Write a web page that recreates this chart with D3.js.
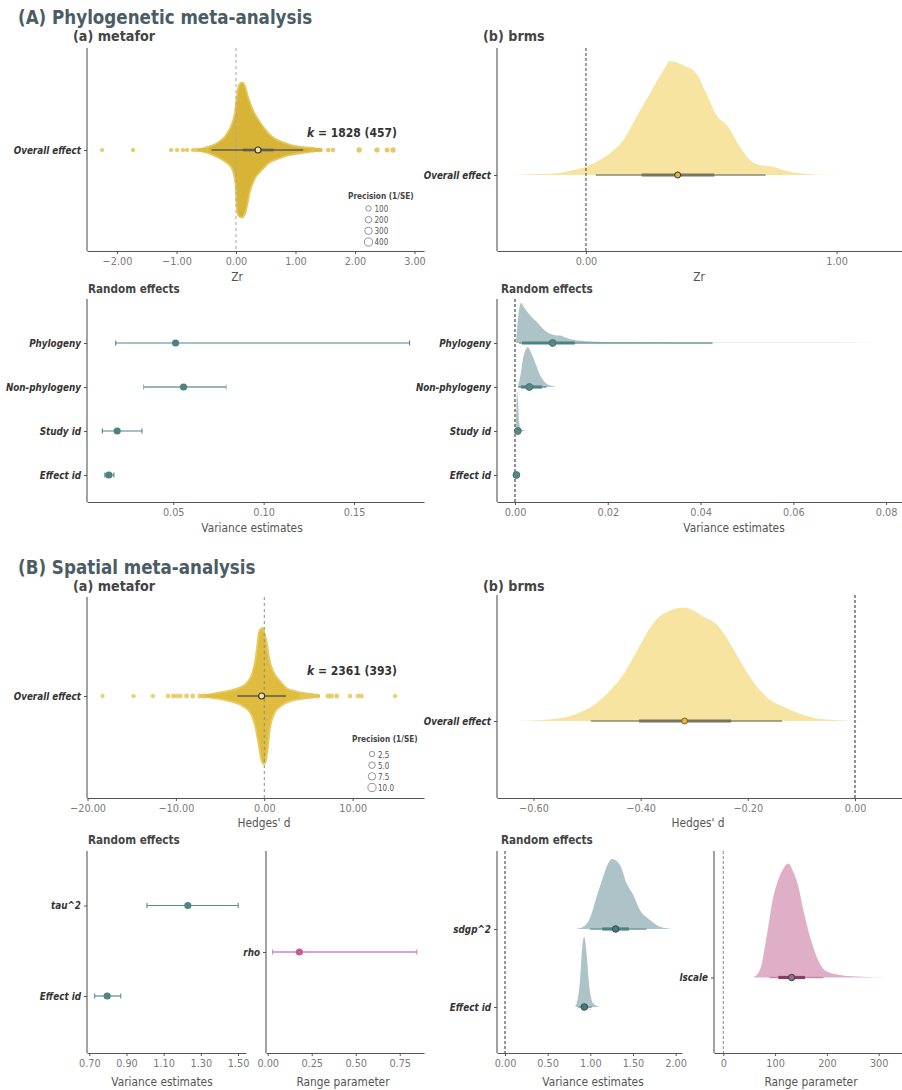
<!DOCTYPE html>
<html><head><meta charset="utf-8">
<script src="https://cdn.jsdelivr.net/npm/d3@7"></script>
<style>
body{margin:0;background:#fff}
svg{display:block}
text{font-family:"DejaVu Sans Condensed","DejaVu Sans",sans-serif}
</style>
</head><body>
<svg id="c" width="902" height="1090"></svg>
<script>
// ======================= DATA =======================
// ---- (A) Phylogenetic meta-analysis ----
const phyloOverallLabel = ["Overall effect"];
const phyloMetaforEstimate = 0.37;
const phyloMetaforCI = [0.12, 0.63];
const phyloMetaforPI = [-0.41, 1.13];
const phyloK = "1828 (457)";
// beeswarm envelope: [Zr, relative stack height]
const phyloSwarmUpper = [[-0.64,0],[-0.55,0.025],[-0.47,0.045],[-0.30,0.11],[-0.185,0.20],[-0.10,0.32],[-0.045,0.45],[-0.015,0.57],[0.01,0.76],[0.05,0.96],[0.10,1.0],[0.14,0.97],[0.207,0.77],[0.29,0.58],[0.375,0.45],[0.487,0.31],[0.6,0.20],[0.77,0.12],[0.94,0.07],[1.10,0.045],[1.27,0.03],[1.45,0]];
const phyloSwarmLower = [[-0.64,0],[-0.55,0.025],[-0.47,0.045],[-0.30,0.11],[-0.185,0.17],[-0.07,0.27],[-0.006,0.51],[0.01,0.81],[0.039,0.97],[0.10,1.0],[0.155,0.94],[0.18,0.85],[0.235,0.61],[0.32,0.42],[0.43,0.30],[0.54,0.20],[0.71,0.13],[0.88,0.08],[1.10,0.045],[1.30,0.02],[1.42,0]];
const phyloOutlierZr = [-2.25,-1.73,-1.09,-0.99,-0.89,-0.82,-0.72,-0.66,-0.57,-0.49,1.29,1.41,1.55,1.63,2.07,2.37,2.54,2.64];
const phyloOutlierPrecision = [8,10,12,14,15,12,15,18,20,25,30,25,20,25,60,55,40,60];
const phyloPrecisionBreaks = [100,200,300,400];
// brms posterior of overall Zr: [Zr, relative density]
const phyloBrmsDensity = [[-0.283,0],[-0.21,0.006],[-0.117,0.015],[-0.064,0.038],[0,0.073],[0.043,0.117],[0.096,0.19],[0.149,0.306],[0.202,0.51],[0.255,0.714],[0.309,0.918],[0.335,1.0],[0.388,0.962],[0.441,0.889],[0.48,0.714],[0.521,0.525],[0.561,0.44],[0.614,0.248],[0.654,0.131],[0.694,0.087],[0.747,0.073],[0.787,0.044],[0.854,0.015],[0.92,0.003],[1.2,0]];
const phyloBrmsPoint = 0.366;
const phyloBrmsInner = [0.222, 0.512];
const phyloBrmsOuter = [0.039, 0.717];
// random effects
const phyloRandomLabels = ["Phylogeny","Non-phylogeny","Study id","Effect id"];
const phyloMetaforVar = [0.0513, 0.0557, 0.0190, 0.0144];
const phyloMetaforVarLow = [0.0182, 0.0336, 0.0108, 0.0122];
const phyloMetaforVarHigh = [0.1807, 0.0793, 0.0327, 0.0172];
const phyloBrmsVarDensity = [
  [[0.0002,0],[0.0006,0.55],[0.0010,0.92],[0.0013,1.0],[0.0020,0.88],[0.0032,0.70],[0.0050,0.49],[0.0068,0.28],[0.0080,0.21],[0.0090,0.19],[0.0097,0.19],[0.0110,0.13],[0.0126,0.08],[0.0162,0.04],[0.022,0.025],[0.029,0.015],[0.043,0.008],[0.060,0.004],[0.079,0]],
  [[0.0006,0],[0.0012,0.3],[0.0018,0.75],[0.0025,0.97],[0.0028,1.0],[0.0033,0.9],[0.0040,0.72],[0.0047,0.5],[0.0054,0.3],[0.0060,0.18],[0.0068,0.08],[0.0078,0.03],[0.0090,0]],
  [[0.0001,0],[0.0003,0.6],[0.0005,1.0],[0.0007,0.6],[0.0009,0.2],[0.0012,0.06],[0.0020,0.01],[0.0030,0]],
  []
];
const phyloBrmsVarPoint = [0.0081, 0.0031, 0.0006, 0.0003];
const phyloBrmsVarInner = [[0.0015,0.0129],[0.0013,0.0058],[0.0003,0.0009],[0.0002,0.0004]];
const phyloBrmsVarOuter = [[0.0009,0.0426],[0.0007,0.0068],[0.0001,0.0014],[0.0001,0.0005]];

// ---- (B) Spatial meta-analysis ----
const spatialOverallLabel = ["Overall effect"];
const spatialMetaforEstimate = -0.30;
const spatialMetaforCI = [-0.55, -0.08];
const spatialMetaforPI = [-3.05, 2.45];
const spatialK = "2361 (393)";
const spatialSwarmUpper = [[-7.2,0],[-5.58,0.04],[-4.07,0.075],[-2.94,0.115],[-2.0,0.19],[-1.43,0.31],[-1.05,0.50],[-0.79,0.75],[-0.6,0.94],[-0.37,0.99],[-0.15,1.0],[0,0.94],[0.27,0.79],[0.57,0.54],[1.02,0.36],[1.78,0.22],[2.53,0.115],[3.67,0.065],[5.36,0.025],[6.3,0]];
const spatialSwarmLower = [[-7.2,0],[-5.5,0.035],[-4.07,0.07],[-2.56,0.14],[-1.62,0.24],[-1.05,0.43],[-0.68,0.68],[-0.37,0.92],[-0.11,1.0],[0.15,0.97],[0.38,0.78],[0.64,0.48],[1.2,0.24],[1.96,0.14],[3.1,0.07],[4.6,0.035],[5.8,0]];
const spatialOutlierD = [-18.3,-14.8,-12.6,-10.9,-10.3,-9.9,-9.5,-8.8,-8.1,-7.3,-6.8,4.2,4.6,5.0,5.4,5.9,7.2,7.6,8.2,9.7,10.6,11.0,14.8];
const spatialOutlierPrecision = [0.3,0.4,0.4,0.6,0.8,0.7,0.8,0.9,1.0,1.0,1.2,2.2,2.0,2.0,1.8,1.2,1.2,1.0,1.2,0.6,0.8,0.8,0.4];
const spatialPrecisionBreaks = [2.5,5.0,7.5,10.0];
const spatialBrmsDensity = [[-0.633,0],[-0.567,0.015],[-0.518,0.067],[-0.487,0.141],[-0.456,0.273],[-0.431,0.419],[-0.406,0.625],[-0.381,0.830],[-0.357,0.947],[-0.319,1.0],[-0.282,0.918],[-0.257,0.845],[-0.233,0.683],[-0.208,0.478],[-0.183,0.302],[-0.158,0.185],[-0.133,0.126],[-0.096,0.053],[-0.059,0.015],[-0.009,0.003],[0.047,0]];
const spatialBrmsPoint = -0.318;
const spatialBrmsInner = [-0.403, -0.231];
const spatialBrmsOuter = [-0.493, -0.136];
// random effects (metafor)
const spatialVarLabels = ["tau^2","Effect id"];
const spatialMetaforVar = [1.230, 0.796];
const spatialMetaforVarLow = [1.010, 0.729];
const spatialMetaforVarHigh = [1.501, 0.869];
const spatialRangeLabels = ["rho"];
const spatialMetaforRho = [0.180];
const spatialMetaforRhoLow = [0.028];
const spatialMetaforRhoHigh = [0.847];
// random effects (brms)
const spatialBrmsVarLabels = ["sdgp^2","Effect id"];
const spatialBrmsVarDensity = [
  [[0.82,0],[0.918,0.033],[0.996,0.152],[1.074,0.46],[1.152,0.75],[1.21,0.94],[1.258,1.0],[1.348,0.914],[1.426,0.65],[1.504,0.486],[1.582,0.27],[1.70,0.129],[1.816,0.033],[1.97,0]],
  [[0.82,0],[0.84,0.05],[0.879,0.38],[0.906,0.86],[0.93,1.0],[0.957,0.76],[0.988,0.29],[1.035,0.05],[1.113,0]]
];
const spatialBrmsVarPoint = [1.297, 0.930];
const spatialBrmsVarInner = [[1.14,1.453],[0.895,0.965]];
const spatialBrmsVarOuter = [[0.996,1.66],[0.86,1.016]];
const spatialBrmsRangeLabels = ["lscale"];
const spatialBrmsRangeDensity = [[58,0],[70.8,0.067],[83.7,0.36],[96.6,0.71],[106,0.855],[116,0.956],[125.6,1.0],[135,0.927],[145,0.796],[154.5,0.592],[167.4,0.359],[180,0.184],[199.6,0.052],[225,0.023],[257.6,0.009],[322,0]];
const spatialBrmsRangePoint = 132;
const spatialBrmsRangeInner = [106.2, 157.8];
const spatialBrmsRangeOuter = [88.8, 193.2];

// ======================= DRAWING =======================
const svg = d3.select("#c");
svg.append("rect").attr("width",902).attr("height",1090).attr("fill","#fff");
const FONT = '"DejaVu Sans Condensed","DejaVu Sans",sans-serif';
const AX = "#555";

function text(x, y, s, o = {}) {
  return svg.append("text").attr("x", x).attr("y", y).text(s)
    .attr("font-size", o.size || 11).attr("font-weight", o.weight || "normal")
    .attr("font-style", o.style || "normal").attr("fill", o.fill || "#444")
    .attr("text-anchor", o.anchor || "start");
}
function xAxis(scale, y, ticks, fmt) {
  const g = svg.append("g").attr("transform", `translate(0,${y})`)
    .call(d3.axisBottom(scale).tickValues(ticks).tickFormat(fmt).tickSize(3).tickSizeOuter(0).tickPadding(3));
  g.attr("font-family", FONT).attr("font-size", 10.8);
  g.select(".domain").attr("stroke", AX).attr("stroke-width", 1.1);
  g.selectAll(".tick line").attr("stroke", AX);
  g.selectAll(".tick text").attr("fill", "#7a7a7a");
}
function yAxis(scale, x, y0, y1) {
  svg.append("line").attr("x1", x).attr("x2", x).attr("y1", y0).attr("y2", y1)
    .attr("stroke", AX).attr("stroke-width", 1.1);
  const g = svg.append("g").attr("transform", `translate(${x},0)`)
    .call(d3.axisLeft(scale).tickSize(3).tickSizeOuter(0).tickPadding(3));
  g.select(".domain").remove();
  g.attr("font-family", FONT).attr("font-size", 9.8);
  g.selectAll(".tick line").attr("stroke", AX);
  g.selectAll(".tick text").attr("fill", "#333").attr("font-weight", "bold").attr("font-style", "italic");
}
function zeroLine(x, y0, y1, color, dash) {
  svg.append("line").attr("x1", x).attr("x2", x).attr("y1", y0).attr("y2", y1)
    .attr("stroke", color).attr("stroke-width", 1).attr("stroke-dasharray", dash);
}
function slab(data, xs, yBase, hScale, fill) {
  if (!data.length) return;
  svg.append("path").datum(data)
    .attr("d", d3.area().x(d => xs(d[0])).y0(yBase).y1(d => yBase - hScale(d[1])).curve(d3.curveMonotoneX))
    .attr("fill", fill);
}
function pointInterval(xs, y, pt, inner, outer, st) {
  svg.append("line").attr("x1", xs(outer[0])).attr("x2", xs(outer[1])).attr("y1", y).attr("y2", y)
    .attr("stroke", st.thin).attr("stroke-width", 1.6);
  svg.append("line").attr("x1", xs(inner[0])).attr("x2", xs(inner[1])).attr("y1", y).attr("y2", y)
    .attr("stroke", st.thick).attr("stroke-width", 3.2);
  svg.append("circle").attr("cx", xs(pt)).attr("cy", y).attr("r", st.r || 3)
    .attr("fill", st.pf).attr("stroke", st.ps).attr("stroke-width", 1);
}
function whisker(xs, y, pt, lo, hi, color, pcolor, w) {
  svg.append("line").attr("x1", xs(lo)).attr("x2", xs(hi)).attr("y1", y).attr("y2", y)
    .attr("stroke", color).attr("stroke-width", w);
  [lo, hi].forEach(v => svg.append("line").attr("x1", xs(v)).attr("x2", xs(v)).attr("y1", y - 2.5).attr("y2", y + 2.5)
    .attr("stroke", color).attr("stroke-width", 1.1));
  svg.append("circle").attr("cx", xs(pt)).attr("cy", y).attr("r", 3.6).attr("fill", pcolor);
}
function swarm(xs, cy, upper, lower, sw, fill, edge) {
  const gen = (sgn) => d3.area().x(d => xs(d[0])).y0(cy).y1(d => cy + sgn * sw(d[1])).curve(d3.curveMonotoneX);
  svg.append("path").datum(upper).attr("d", gen(-1)).attr("fill", fill).attr("stroke", edge).attr("stroke-width", 1.8);
  svg.append("path").datum(lower).attr("d", gen(1)).attr("fill", fill).attr("stroke", edge).attr("stroke-width", 1.8);
  svg.append("line").attr("x1", xs(upper[0][0])).attr("x2", xs(upper[upper.length-1][0])).attr("y1", cy).attr("y2", cy)
    .attr("stroke", fill).attr("stroke-width", 3);
}
const f2 = d3.format(".2f");

// ---------- Titles ----------
text(18, 23.5, "(A) Phylogenetic meta-analysis", {size: 18.6, weight: "bold", fill: "#4b5c64"});
text(73, 41, "(a) metafor", {size: 14.2, weight: "bold", fill: "#444"});
text(483, 41, "(b) brms", {size: 14.2, weight: "bold", fill: "#444"});
text(18, 573.5, "(B) Spatial meta-analysis", {size: 18.6, weight: "bold", fill: "#4b5c64"});
text(73, 591, "(a) metafor", {size: 14.2, weight: "bold", fill: "#444"});
text(483, 591, "(b) brms", {size: 14.2, weight: "bold", fill: "#444"});

// ========== A (a) metafor ==========
{
  const xs = d3.scaleLinear().domain([-2.504, 3.160]).range([87, 424]);
  const ys = d3.scalePoint().domain(phyloOverallLabel).range([150, 150]);
  const cy = ys("Overall effect");
  const sw = d3.scaleLinear().domain([0, 1]).range([0, 67.5]);
  const rs = d3.scaleSqrt().domain([0, 400]).range([1.3, 4.1]);
  swarm(xs, cy, phyloSwarmUpper, phyloSwarmLower, sw, "#d8b436", "#e4c75c");
  svg.append("g").selectAll("circle").data(phyloOutlierZr).join("circle")
    .attr("cx", d => xs(d)).attr("cy", cy).attr("r", (d, i) => rs(phyloOutlierPrecision[i]))
    .attr("fill", "#e1c24c").attr("stroke", "#dcb83e").attr("stroke-width", 0.6).attr("opacity", 0.85);
  zeroLine(xs(0), 48, 251, "#a6a6a6", "3,3");
  svg.append("line").attr("x1", xs(phyloMetaforPI[0])).attr("x2", xs(phyloMetaforPI[1])).attr("y1", cy).attr("y2", cy)
    .attr("stroke", "#5a5a5a").attr("stroke-width", 1.4);
  svg.append("line").attr("x1", xs(phyloMetaforCI[0])).attr("x2", xs(phyloMetaforCI[1])).attr("y1", cy).attr("y2", cy)
    .attr("stroke", "#5a5a5a").attr("stroke-width", 2.6);
  svg.append("circle").attr("cx", xs(phyloMetaforEstimate)).attr("cy", cy).attr("r", 3)
    .attr("fill", "#f4e39c").attr("stroke", "#333").attr("stroke-width", 1.1);
  const k = svg.append("text").attr("x", 307).attr("y", 137).attr("font-size", 12).attr("font-weight", "bold").attr("fill", "#333");
  k.append("tspan").attr("font-style", "italic").text("k");
  k.append("tspan").text(" = " + phyloK);
  // legend
  text(348, 199, "Precision (1/SE)", {size: 8.2, weight: "bold", fill: "#444"});
  const ly = d3.scalePoint().domain(phyloPrecisionBreaks).range([208.5, 242]);
  phyloPrecisionBreaks.forEach(p => {
    svg.append("circle").attr("cx", 368.5).attr("cy", ly(p)).attr("r", rs(p)).attr("fill", "#fff").attr("stroke", "#7a7a7a").attr("stroke-width", 0.8);
    text(374.5, ly(p) + 3, String(p), {size: 8, fill: "#555"});
  });
  xAxis(xs, 251, [-2, -1, 0, 1, 2, 3], f2);
  yAxis(ys, 87, 48, 251);
  text(237, 281, "Zr", {size: 11.8, fill: "#555", anchor: "middle"});
}

// ========== A (b) brms ==========
{
  const xs = d3.scaleLinear().domain([-0.355, 1.261]).range([497, 902]);
  const ys = d3.scalePoint().domain(phyloOverallLabel).range([175, 175]);
  const cy = ys("Overall effect");
  const hs = d3.scaleLinear().domain([0, 1]).range([0, 114]);
  slab(phyloBrmsDensity, xs, cy, hs, "#f7e4a1");
  zeroLine(xs(0), 48, 251, "#3c3a5e", "3,2");
  pointInterval(xs, cy, phyloBrmsPoint, phyloBrmsInner, phyloBrmsOuter,
    {thin: "#8b8873", thick: "#78745f", pf: "#e6b82c", ps: "#333", r: 3});
  xAxis(xs, 251, [0, 1], f2);
  yAxis(ys, 497, 48, 251);
  text(699, 281, "Zr", {size: 11.8, fill: "#555", anchor: "middle"});
}

// ========== A random effects metafor ==========
{
  text(88, 293, "Random effects", {size: 11.6, weight: "bold", fill: "#444"});
  const xs = d3.scaleLinear().domain([0.00232, 0.18867]).range([87, 424]);
  const ys = d3.scalePoint().domain(phyloRandomLabels).range([343, 475]);
  const lineCols = ["#4f8484", "#95b7b7", "#4f8484", "#4f8484"];
  const widths = [1.1, 2.2, 1.1, 1.1];
  phyloRandomLabels.forEach((lab, i) => {
    whisker(xs, ys(lab), phyloMetaforVar[i], phyloMetaforVarLow[i], phyloMetaforVarHigh[i], lineCols[i], "#527f7f", widths[i]);
  });
  xAxis(xs, 502, [0.05, 0.10, 0.15], f2);
  yAxis(ys, 87, 299, 502);
  text(252, 532, "Variance estimates", {size: 11.8, fill: "#555", anchor: "middle"});
}

// ========== A random effects brms ==========
{
  text(501, 293, "Random effects", {size: 11.6, weight: "bold", fill: "#444"});
  const xs = d3.scaleLinear().domain([-0.00388, 0.08343]).range([497, 902]);
  const ys = d3.scalePoint().domain(phyloRandomLabels).range([343, 475]);
  const hs = d3.scaleLinear().domain([0, 1]).range([0, 40]);
  phyloRandomLabels.forEach((lab, i) => slab(phyloBrmsVarDensity[i], xs, ys(lab), hs, "#adc3c8"));
  zeroLine(xs(0), 299, 502, "#222", "3,2");
  phyloRandomLabels.forEach((lab, i) => {
    pointInterval(xs, ys(lab), phyloBrmsVarPoint[i], phyloBrmsVarInner[i], phyloBrmsVarOuter[i],
      {thin: "#6d9c9c", thick: "#4b8282", pf: "#5a8686", ps: "#4a7171", r: 3.4});
  });
  xAxis(xs, 502, [0, 0.02, 0.04, 0.06, 0.08], f2);
  yAxis(ys, 497, 299, 502);
  text(734, 532, "Variance estimates", {size: 11.8, fill: "#555", anchor: "middle"});
}

// ========== B (a) metafor ==========
{
  const xs = d3.scaleLinear().domain([-20.06, 18.07]).range([87, 424]);
  const ys = d3.scalePoint().domain(spatialOverallLabel).range([696, 696]);
  const cy = ys("Overall effect");
  const sw = d3.scaleLinear().domain([0, 1]).range([0, 68]);
  const rs = d3.scaleSqrt().domain([0, 10]).range([1.3, 4.1]);
  swarm(xs, cy, spatialSwarmUpper, spatialSwarmLower, sw, "#dfbc3d", "#e8cb5e");
  svg.append("g").selectAll("circle").data(spatialOutlierD).join("circle")
    .attr("cx", d => xs(d)).attr("cy", cy).attr("r", (d, i) => rs(spatialOutlierPrecision[i]))
    .attr("fill", "#e6c95c").attr("stroke", "#e0c04a").attr("stroke-width", 0.6).attr("opacity", 0.85);
  zeroLine(xs(0), 597, 798, "#8a8a8a", "3,3");
  svg.append("line").attr("x1", xs(spatialMetaforPI[0])).attr("x2", xs(spatialMetaforPI[1])).attr("y1", cy).attr("y2", cy)
    .attr("stroke", "#5a5a5a").attr("stroke-width", 1.4);
  svg.append("line").attr("x1", xs(spatialMetaforCI[0])).attr("x2", xs(spatialMetaforCI[1])).attr("y1", cy).attr("y2", cy)
    .attr("stroke", "#5a5a5a").attr("stroke-width", 2.6);
  svg.append("circle").attr("cx", xs(spatialMetaforEstimate)).attr("cy", cy).attr("r", 3)
    .attr("fill", "#f4e39c").attr("stroke", "#333").attr("stroke-width", 1.1);
  const k = svg.append("text").attr("x", 307).attr("y", 675).attr("font-size", 12).attr("font-weight", "bold").attr("fill", "#333");
  k.append("tspan").attr("font-style", "italic").text("k");
  k.append("tspan").text(" = " + spatialK);
  text(352, 742, "Precision (1/SE)", {size: 8.2, weight: "bold", fill: "#444"});
  const ly = d3.scalePoint().domain(spatialPrecisionBreaks).range([754, 787.5]);
  spatialPrecisionBreaks.forEach(p => {
    svg.append("circle").attr("cx", 372).attr("cy", ly(p)).attr("r", rs(p)).attr("fill", "#fff").attr("stroke", "#7a7a7a").attr("stroke-width", 0.8);
    text(378, ly(p) + 3.5, p.toFixed(1), {size: 8, fill: "#555"});
  });
  xAxis(xs, 798, [-20, -10, 0, 10], f2);
  yAxis(ys, 87, 597, 798);
  text(264, 827, "Hedges' d", {size: 11.8, fill: "#555", anchor: "middle"});
}

// ========== B (b) brms ==========
{
  const xs = d3.scaleLinear().domain([-0.668, 0.0877]).range([497, 902]);
  const ys = d3.scalePoint().domain(spatialOverallLabel).range([721, 721]);
  const cy = ys("Overall effect");
  const hs = d3.scaleLinear().domain([0, 1]).range([0, 113.5]);
  slab(spatialBrmsDensity, xs, cy, hs, "#f7e4a1");
  zeroLine(xs(0), 595, 798, "#222", "3,2");
  pointInterval(xs, cy, spatialBrmsPoint, spatialBrmsInner, spatialBrmsOuter,
    {thin: "#8b8873", thick: "#78745f", pf: "#e6b82c", ps: "#6a6040", r: 3});
  xAxis(xs, 798, [-0.6, -0.4, -0.2, 0], f2);
  yAxis(ys, 497, 595, 798);
  text(698, 827, "Hedges' d", {size: 11.8, fill: "#555", anchor: "middle"});
}

// ========== B random metafor ==========
{
  text(88, 844, "Random effects", {size: 11.6, weight: "bold", fill: "#444"});
  const xs = d3.scaleLinear().domain([0.6876, 1.5430]).range([87, 246]);
  const ys = d3.scalePoint().domain(spatialVarLabels).range([905.5, 996]);
  spatialVarLabels.forEach((lab, i) =>
    whisker(xs, ys(lab), spatialMetaforVar[i], spatialMetaforVarLow[i], spatialMetaforVarHigh[i], "#5a8d8d", "#538484", 1.2));
  xAxis(xs, 1053, [0.7, 0.9, 1.1, 1.3, 1.5], f2);
  yAxis(ys, 87, 851, 1053);
  text(162, 1086, "Variance estimates", {size: 11.8, fill: "#555", anchor: "middle"});

  const xr = d3.scaleLinear().domain([-0.0097, 0.888]).range([266, 424]);
  const yr = d3.scalePoint().domain(spatialRangeLabels).range([952, 952]);
  spatialRangeLabels.forEach((lab, i) =>
    whisker(xr, yr(lab), spatialMetaforRho[i], spatialMetaforRhoLow[i], spatialMetaforRhoHigh[i], "#d884ae", "#c85d93", 1.6));
  xAxis(xr, 1053, [0, 0.25, 0.5, 0.75], f2);
  yAxis(yr, 266, 851, 1053);
  text(343, 1086, "Range parameter", {size: 11.8, fill: "#555", anchor: "middle"});
}

// ========== B random brms ==========
{
  text(501, 844, "Random effects", {size: 11.6, weight: "bold", fill: "#444"});
  const xs = d3.scaleLinear().domain([-0.0938, 2.0750]).range([497, 682]);
  const ys = d3.scalePoint().domain(spatialBrmsVarLabels).range([929, 1007]);
  const hs = d3.scaleLinear().domain([0, 1]).range([0, 70]);
  spatialBrmsVarLabels.forEach((lab, i) => slab(spatialBrmsVarDensity[i], xs, ys(lab), hs, "#adc3c8"));
  zeroLine(xs(0), 851, 1053, "#2c2c4a", "3,2");
  spatialBrmsVarLabels.forEach((lab, i) =>
    pointInterval(xs, ys(lab), spatialBrmsVarPoint[i], spatialBrmsVarInner[i], spatialBrmsVarOuter[i],
      {thin: "#6d9c9c", thick: "#4b8383", pf: "#4a7878", ps: "#2f4f4f", r: 3.3}));
  xAxis(xs, 1053, [0, 0.5, 1, 1.5, 2], f2);
  yAxis(ys, 497, 851, 1053);
  text(593, 1086, "Variance estimates", {size: 11.8, fill: "#555", anchor: "middle"});

  const xr = d3.scaleLinear().domain([-17.95, 344.98]).range([714, 902]);
  const yr = d3.scalePoint().domain(spatialBrmsRangeLabels).range([977.5, 977.5]);
  const hr = d3.scaleLinear().domain([0, 1]).range([0, 114]);
  slab(spatialBrmsRangeDensity, xr, yr("lscale"), hr, "#dfafc7");
  zeroLine(xr(0), 851, 1053, "#8a84ad", "3,2");
  pointInterval(xr, yr("lscale"), spatialBrmsRangePoint, spatialBrmsRangeInner, spatialBrmsRangeOuter,
    {thin: "#c48aa9", thick: "#8b3b69", pf: "#8e7284", ps: "#4a3a44", r: 3.2});
  xAxis(xr, 1053, [0, 100, 200, 300], d3.format("d"));
  yAxis(yr, 714, 851, 1053);
  text(811, 1086, "Range parameter", {size: 11.8, fill: "#555", anchor: "middle"});
}
</script>
</body></html>
